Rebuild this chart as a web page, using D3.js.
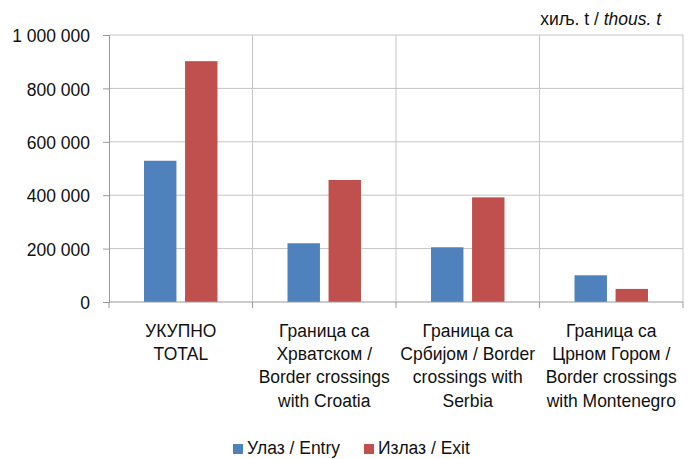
<!DOCTYPE html>
<html>
<head>
<meta charset="utf-8">
<script src="https://cdn.jsdelivr.net/npm/d3@7"></script>
<style>
  body { margin: 0; background: #fff; }
  svg { display: block; font-family: "Liberation Sans", Arial, sans-serif; }
</style>
</head>
<body>
<div id="chart"></div>
<script>
// data
const categories = [
    ["УКУПНО", "TOTAL"],
    ["Граница са", "Хрватском /", "Border crossings", "with Croatia"],
    ["Граница са", "Србијом / Border", "crossings with", "Serbia"],
    ["Граница са", "Црном Гором /", "Border crossings", "with Montenegro"]
]
const seriesNames = ["Улаз / Entry", "Излаз / Exit"]
const entryValues = [529000, 220000, 205000, 100000]
const exitValues = [902000, 457000, 392000, 49000]
const yTicks = [0, 200000, 400000, 600000, 800000, 1000000]
const colors = ["#4f81bd", "#c0504d"]

const W = 694, H = 459
const margin = { top: 35, right: 11, bottom: 157, left: 109 },
    width = W - margin.left - margin.right,
    height = H - margin.top - margin.bottom;
const fs = 17.5      // font size
const stretch = 1.1  // the source font is a bit taller than Liberation Sans

const svg = d3.select("#chart")
    .append("svg")
    .attr("width", W)
    .attr("height", H)

const g = svg.append("g")
    .attr("transform", `translate(${margin.left}, ${margin.top})`);

const data = categories.map((c, i) => ({ idx: i, label: c, values: [entryValues[i], exitValues[i]] }))

const x0 = d3.scaleBand()
    .domain(d3.range(categories.length))
    .range([0, width])
    .padding(0)

const x1 = d3.scaleBand()
    .domain(d3.range(seriesNames.length))
    .range([x0.bandwidth() * 0.244, x0.bandwidth() * 0.756])
    .paddingInner(0.21)

const y = d3.scaleLinear()
    .domain([0, 1000000])
    .range([height, 0])

const fmt = v => d3.format(",")(v).replace(/,/g, " ")

// horizontal gridlines
g.selectAll(".hgrid")
    .data(yTicks.slice(1))
    .join("line")
    .attr("x1", 0).attr("x2", width)
    .attr("y1", d => y(d)).attr("y2", d => y(d))
    .attr("stroke", "#c4c4c4")
    .attr("stroke-width", 1)

// vertical gridlines at category boundaries
g.selectAll(".vgrid")
    .data(d3.range(1, categories.length + 1))
    .join("line")
    .attr("x1", d => x0(d - 1) + x0.bandwidth()).attr("x2", d => x0(d - 1) + x0.bandwidth())
    .attr("y1", 0).attr("y2", height)
    .attr("stroke", "#c4c4c4")

// bars
g.selectAll(".grp")
    .data(data)
    .join("g")
    .attr("transform", d => `translate(${x0(d.idx)},0)`)
    .selectAll("rect")
    .data(d => d.values.map((v, k) => ({ k: k, v: v })))
    .join("rect")
    .attr("x", d => x1(d.k))
    .attr("width", x1.bandwidth())
    .attr("y", d => y(d.v))
    .attr("height", d => height - y(d.v))
    .attr("fill", d => colors[d.k])

// y axis
const yAxis = g.append("g")
    .call(d3.axisLeft(y).tickValues(yTicks).tickFormat(fmt).tickSize(6).tickPadding(13))
yAxis.select(".domain").attr("stroke", "#999")
yAxis.selectAll(".tick line").attr("stroke", "#999")
yAxis.selectAll(".tick text")
    .attr("font-size", fs)
    .attr("font-family", "inherit")
    .attr("fill", "#111")
    .attr("dy", null)
    .attr("transform", `translate(0, ${fs * 0.35 * stretch}) scale(1, ${stretch})`)

// x axis
const xAxisG = g.append("g").attr("transform", `translate(0, ${height})`)
xAxisG.append("line")
    .attr("x1", 0).attr("x2", width)
    .attr("stroke", "#999")
xAxisG.selectAll(".xtick")
    .data(d3.range(0, categories.length + 1))
    .join("line")
    .attr("x1", d => d * x0.step()).attr("x2", d => d * x0.step())
    .attr("y1", 0).attr("y2", 6)
    .attr("stroke", "#999")

// category labels
const labels = xAxisG.selectAll(".xlab")
    .data(data)
    .join("text")
    .attr("text-anchor", "middle")
    .attr("font-size", fs)
    .attr("fill", "#111")
    .attr("transform", d => `translate(${x0(d.idx) + x0.bandwidth() / 2}, 34.7) scale(1, ${stretch})`)
labels.selectAll("tspan")
    .data(d => d.label)
    .join("tspan")
    .attr("x", 0)
    .attr("y", (d, i) => i * 23.3 / stretch)
    .text(d => d)

// unit label
const unit = svg.append("text")
    .attr("text-anchor", "end")
    .attr("font-size", fs)
    .attr("fill", "#111")
    .attr("transform", `translate(661, 25) scale(1, ${stretch})`)
unit.append("tspan").text("хиљ. t / ")
unit.append("tspan").attr("font-style", "italic").text("thous. t")

// legend
const legendX = [233, 364]
const legend = svg.selectAll(".leg")
    .data(seriesNames)
    .join("g")
    .attr("transform", (d, i) => `translate(${legendX[i]}, 444)`)
legend.append("rect")
    .attr("width", 10).attr("height", 10)
    .attr("fill", (d, i) => colors[i])
legend.append("text")
    .attr("font-size", fs)
    .attr("fill", "#111")
    .attr("transform", `translate(14, 10) scale(1, ${stretch})`)
    .text(d => d)
</script>
</body>
</html>
